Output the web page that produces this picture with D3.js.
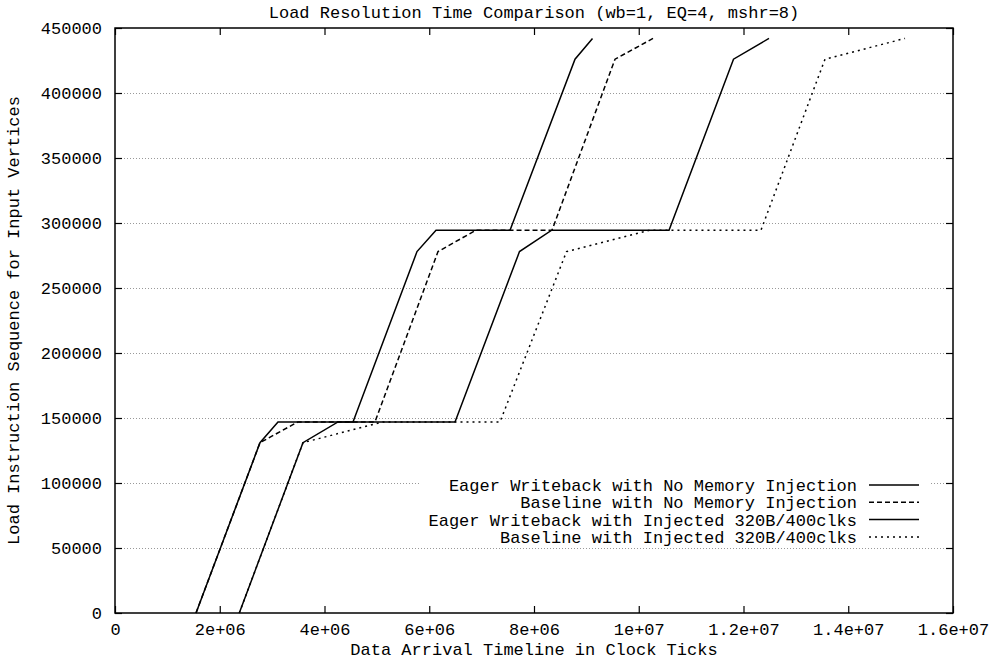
<!DOCTYPE html>
<head>
<style>
  body { margin: 0; background: #fff; }
  text { font-family: "Liberation Mono", "DejaVu Sans Mono", monospace; font-size: 17px; fill: #000; }
  .grid line { stroke: #999; stroke-width: 1; stroke-dasharray: 1,2; shape-rendering: crispEdges; }
  .series { fill: none; stroke: #000; stroke-width: 1.5; stroke-linejoin: miter; }
</style>
</head>
<body>
<svg width="990" height="660"></svg>
<script src="https://d3js.org/d3.v7.min.js"></script>
<script>

// load sequence levels (y) shared by every run
var loadSeq = [0, 131000, 147000, 147000, 278000, 294500, 294500, 426000, 442000];

// arrival time (x) for each run, clock ticks
var eagerNoInj   = [1.547e6, 2.768e6, 3.112e6, 4.544e6, 5.766e6, 6.129e6, 7.542e6, 8.783e6, 9.117e6];
var baseNoInj    = [1.547e6, 2.768e6, 3.494e6, 4.964e6, 6.167e6, 6.893e6, 8.344e6, 9.547e6, 1.0272e7];
var eagerInj     = [2.373e6, 3.589e6, 4.258e6, 6.492e6, 7.723e6, 8.338e6, 1.0578e7, 1.1809e7, 1.2487e7];
var baseInj      = [2.373e6, 3.589e6, 5.117e6, 7.351e6, 8.621e6, 1.0215e7, 1.2334e7, 1.3556e7, 1.5084e7];

var seriesNames = [
  "Eager Writeback with No Memory Injection",
  "Baseline with No Memory Injection",
  "Eager Writeback with Injected 320B/400clks",
  "Baseline with Injected 320B/400clks"
];
var seriesDash = ["none", "5,3", "none", "2,4"];

var xTicks = [0, 2e6, 4e6, 6e6, 8e6, 1e7, 1.2e7, 1.4e7, 1.6e7];
var xTickLabels = ["0", "2e+06", "4e+06", "6e+06", "8e+06", "1e+07", "1.2e+07", "1.4e+07", "1.6e+07"];
var yTicks = [0, 50000, 100000, 150000, 200000, 250000, 300000, 350000, 400000, 450000];

var svg = d3.select("svg");
// note: "top" is taken by window.top, so plot edges get their own names
var plotL = 115, plotR = 953, plotT = 28, plotB = 613;

var x = d3.scaleLinear().domain([0, 1.6e7]).range([plotL, plotR]);
var y = d3.scaleLinear().domain([0, 450000]).range([plotB, plotT]);

// horizontal grid
svg.append("g")
    .attr("class", "grid")
  .selectAll("line")
  .data(yTicks.slice(1, -1))
  .enter().append("line")
    .attr("x1", plotL).attr("x2", plotR)
    .attr("y1", (d) => Math.round(y(d)) + 0.5)
    .attr("y2", (d) => Math.round(y(d)) + 0.5);

// runs
var runs = [eagerNoInj, baseNoInj, eagerInj, baseInj].map((xs, i) => {
  return { name: seriesNames[i], dash: seriesDash[i], pts: xs.map((v, j) => [v, loadSeq[j]]) };
});

var line = d3.line().x((d) => x(d[0])).y((d) => y(d[1]));

svg.append("g")
  .selectAll("path")
  .data(runs)
  .enter().append("path")
    .attr("class", "series")
    .attr("stroke-dasharray", (d) => d.dash)
    .attr("d", (d) => line(d.pts));

// axes: ticks drawn inward on all four sides (gnuplot mirror style)
var tickLen = 7;
var axB = d3.axisBottom(x).tickValues(xTicks).tickSize(-tickLen).tickFormat((d, i) => xTickLabels[i]).tickPadding(10);
var axT = d3.axisTop(x).tickValues(xTicks).tickSize(-tickLen).tickFormat("");
var axL = d3.axisLeft(y).tickValues(yTicks).tickSize(-tickLen).tickFormat(d3.format("d")).tickPadding(13);
var axR = d3.axisRight(y).tickValues(yTicks).tickSize(-tickLen).tickFormat("");

[[axB, "translate(0," + plotB + ")"], [axT, "translate(0," + plotT + ")"],
 [axL, "translate(" + plotL + ",0)"], [axR, "translate(" + plotR + ",0)"]].forEach((a) => {
  var g = svg.append("g").attr("transform", a[1]).call(a[0]);
  g.select(".domain").remove();
  g.selectAll(".tick line").attr("stroke", "#000").attr("stroke-width", 1.2);
  g.selectAll(".tick text").attr("font-size", null).attr("font-family", null);
});

svg.selectAll(".tick text").style("font-size", "17px");

// plot border
svg.append("rect")
    .attr("x", plotL).attr("y", plotT)
    .attr("width", plotR - plotL).attr("height", plotB - plotT)
    .attr("fill", "none").attr("stroke", "#000").attr("stroke-width", 1.5);

// key (opaque box hides the grid behind it)
var key = svg.append("g");
key.append("rect")
    .attr("x", 421).attr("y", 476).attr("width", 508).attr("height", 68)
    .attr("fill", "#fff");

var keyRow = key.selectAll("g.row")
  .data(runs)
  .enter().append("g")
    .attr("class", "row")
    .attr("transform", (d, i) => "translate(0," + (485 + i * 17.3) + ")");

keyRow.append("text")
    .attr("x", 857).attr("dy", "0.35em")
    .attr("text-anchor", "end")
    .text((d) => d.name);

keyRow.append("line")
    .attr("class", "series")
    .attr("x1", 869).attr("x2", 919)
    .attr("stroke-dasharray", (d) => d.dash);

// titles
svg.append("text")
    .attr("x", (plotL + plotR) / 2).attr("y", 18)
    .attr("text-anchor", "middle")
    .text("Load Resolution Time Comparison (wb=1, EQ=4, mshr=8)");

svg.append("text")
    .attr("x", (plotL + plotR) / 2).attr("y", 655)
    .attr("text-anchor", "middle")
    .text("Data Arrival Timeline in Clock Ticks");

svg.append("text")
    .attr("transform", "translate(19," + ((plotT + plotB) / 2) + ") rotate(-90)")
    .attr("text-anchor", "middle")
    .text("Load Instruction Sequence for Input Vertices");

</script>
</body>
